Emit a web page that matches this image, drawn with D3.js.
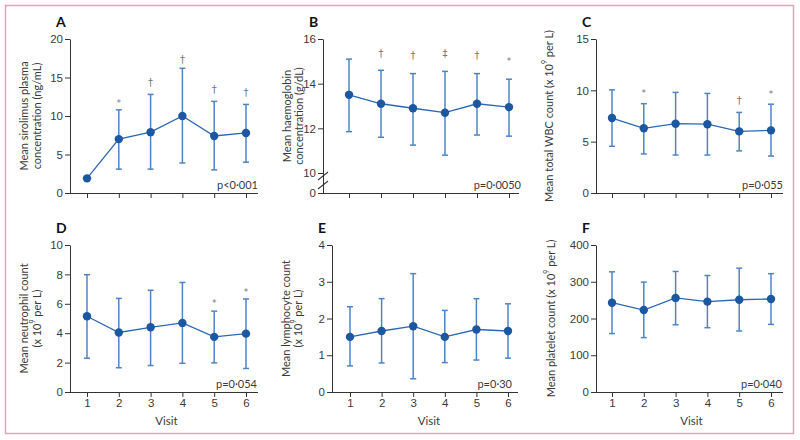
<!DOCTYPE html>
<html><head><meta charset="utf-8">
<script src="https://cdn.jsdelivr.net/npm/d3@7"></script>
<style>
body{margin:0;background:#fff;}
svg{display:block;font-family:Lato,"Noto Sans",sans-serif;}
</style></head>
<body><svg id="c" width="800" height="440"></svg>
<script>
// ---- data ----
const visits = [1, 2, 3, 4, 5, 6];

const sirolimusMean = [1.9, 7.0, 7.9, 10.0, 7.4, 7.8];
const sirolimusLow  = [null, 3.1, 3.1, 3.9, 3.0, 4.0];
const sirolimusHigh = [null, 10.8, 12.8, 16.2, 11.9, 11.5];
const sirolimusMarks = ["", "*", "†", "†", "†", "†"];
const sirolimusMarkY = [null, 11.3, 13.9, 16.9, 13.0, 12.6];

const haemoglobinMean = [13.5, 13.1, 12.9, 12.7, 13.1, 12.95];
const haemoglobinLow  = [11.85, 11.6, 11.25, 10.8, 11.7, 11.65];
const haemoglobinHigh = [15.1, 14.6, 14.45, 14.55, 14.45, 14.2];
const haemoglobinMarks = ["", "†", "†", "‡", "†", "*"];
const haemoglobinMarkY = [null, 15.2, 15.1, 15.2, 15.1, 14.9];

const wbcMean = [7.3, 6.3, 6.75, 6.7, 6.0, 6.1];
const wbcLow  = [4.55, 3.8, 3.7, 3.7, 4.1, 3.6];
const wbcHigh = [10.05, 8.7, 9.8, 9.7, 7.85, 8.65];
const wbcMarks = ["", "*", "", "", "†", "*"];
const wbcMarkY = [null, 9.45, null, null, 8.67, 9.35];

const neutrophilMean = [5.15, 4.05, 4.4, 4.7, 3.75, 3.97];
const neutrophilLow  = [2.3, 1.65, 1.8, 1.95, 1.98, 1.6];
const neutrophilHigh = [7.98, 6.37, 6.92, 7.45, 5.5, 6.33];
const neutrophilMarks = ["", "", "", "", "*", "*"];
const neutrophilMarkY = [null, null, null, null, 5.85, 6.6];

const lymphocyteMean = [1.5, 1.66, 1.79, 1.5, 1.7, 1.66];
const lymphocyteLow  = [0.71, 0.79, 0.36, 0.8, 0.87, 0.92];
const lymphocyteHigh = [2.32, 2.54, 3.22, 2.22, 2.54, 2.4];

const plateletMean = [243, 223, 256, 246, 251, 253];
const plateletLow  = [159, 148, 183, 175, 166, 184];
const plateletHigh = [327, 299, 328, 317, 337, 322];

const yTicksA = [0, 5, 10, 15, 20];
const yTicksB = [0, 10, 12, 14, 16];
const yTicksC = [0, 5, 10, 15];
const yTicksD = [0, 2, 4, 6, 8, 10];
const yTicksE = [0, 1, 2, 3, 4];
const yTicksF = [0, 100, 200, 300, 400];

const pValues = ["p<0·001", "p=0·0050", "p=0·055", "p=0·054", "p=0·30", "p=0·040"];
const panelLetters = ["A", "B", "C", "D", "E", "F"];
const xTitle = "Visit";

// ---- layout ----
const svg = d3.select("#c");
const C_DOT = "#1c57a2", C_LINE = "#2c68b2", C_ERR = "#4f84c4", C_AX = "#333", C_TXT = "#3a3a3a", C_MARK = "#6f7884";

svg.append("rect").attr("x", 5.5).attr("y", 5.5).attr("width", 788).attr("height", 428)
  .attr("fill", "none").attr("stroke", "#e3a3b9").attr("stroke-width", 1.5);

const panels = [
  {letter: panelLetters[0], mean: sirolimusMean, lo: sirolimusLow, hi: sirolimusHigh, marks: sirolimusMarks, markY: sirolimusMarkY,
   domain: [0, 20], range: [193, 39], ticks: yTicksA, axisX: 70, x0: 87, x1: 246, xEnd: 258, top: true,
   label: ["Mean sirolimus plasma", "concentration (ng/mL)"], labelX: [23, 36], p: pValues[0], pX: 258},
  {letter: panelLetters[1], mean: haemoglobinMean, lo: haemoglobinLow, hi: haemoglobinHigh, marks: haemoglobinMarks, markY: haemoglobinMarkY,
   domain: [0, 10, 16], range: [193, 173, 39], ticks: yTicksB, axisX: 323, x0: 349, x1: 509, xEnd: 519, top: true, brk: true,
   label: ["Mean haemoglobin", "concentration (g/dL)"], labelX: [286, 298], p: pValues[1], pX: 521},
  {letter: panelLetters[2], mean: wbcMean, lo: wbcLow, hi: wbcHigh, marks: wbcMarks, markY: wbcMarkY,
   domain: [0, 15], range: [193, 39], ticks: yTicksC, axisX: 596, x0: 612, x1: 771, xEnd: 783, top: true,
   label: [["Mean total WBC count (x 10", "9", " per L)"]], labelX: [548], p: pValues[2], pX: 783},
  {letter: panelLetters[3], mean: neutrophilMean, lo: neutrophilLow, hi: neutrophilHigh, marks: neutrophilMarks, markY: neutrophilMarkY,
   domain: [0, 10], range: [392, 245], ticks: yTicksD, axisX: 70, x0: 87, x1: 246, xEnd: 258, top: false,
   label: ["Mean neutrophil count", ["(x 10", "9", " per L)"]], labelX: [23, 36], p: pValues[3], pX: 257},
  {letter: panelLetters[4], mean: lymphocyteMean, lo: lymphocyteLow, hi: lymphocyteHigh, marks: null, markY: null,
   domain: [0, 4], range: [392, 245], ticks: yTicksE, axisX: 332, x0: 350, x1: 508, xEnd: 518, top: false,
   label: ["Mean lymphocyte count", ["(x 10", "9", " per L)"]], labelX: [285, 297], p: pValues[4], pX: 512},
  {letter: panelLetters[5], mean: plateletMean, lo: plateletLow, hi: plateletHigh, marks: null, markY: null,
   domain: [0, 400], range: [392, 245], ticks: yTicksF, axisX: 596, x0: 612, x1: 771, xEnd: 783, top: false,
   label: [["Mean platelet count (x 10", "9", " per L)"]], labelX: [550], p: pValues[5], pX: 782}
];

panels.forEach(P => {
  const g = svg.append("g");
  const y = d3.scaleLinear().domain(P.domain).range(P.range);
  const x = d3.scaleLinear().domain([1, 6]).range([P.x0, P.x1]);
  const yBase = P.range[0], yTop = P.range[P.range.length - 1];

  // panel letter
  g.append("text").attr("x", P.axisX - 14).attr("y", yTop - 12).attr("font-size", 14).attr("font-weight", "bold")
    .attr("fill", "#111").text(P.letter);

  // y axis
  const ya = g.append("g").attr("transform", `translate(${P.axisX},0)`)
    .call(d3.axisLeft(y).tickValues(P.ticks).tickSize(5).tickSizeOuter(0).tickPadding(2).tickFormat(d3.format("d")));
  ya.select(".domain").attr("stroke", C_AX);
  ya.selectAll(".tick line").attr("stroke", C_AX);
  ya.selectAll(".tick text").attr("font-size", 11.5).attr("fill", C_TXT).attr("font-family", null);
  if (P.brk) {
    [176, 185].forEach(yy => {
      g.append("line").attr("x1", P.axisX - 5).attr("y1", yy + 4).attr("x2", P.axisX + 5).attr("y2", yy - 4)
        .attr("stroke", C_AX).attr("stroke-width", 1.1);
    });
  }

  // x axis
  g.append("line").attr("x1", P.axisX).attr("x2", P.xEnd).attr("y1", yBase + 0.5).attr("y2", yBase + 0.5).attr("stroke", C_AX);
  const xa = g.append("g").attr("transform", `translate(0,${yBase})`)
    .call(d3.axisBottom(x).tickValues(visits).tickSize(5).tickSizeOuter(0).tickPadding(2)
      .tickFormat(P.top ? "" : d3.format("d")));
  xa.select(".domain").remove();
  xa.selectAll(".tick line").attr("stroke", C_AX);
  xa.selectAll(".tick text").attr("font-size", 11.5).attr("fill", C_TXT).attr("font-family", null);
  if (!P.top) {
    g.append("text").attr("x", (P.x0 + P.x1) / 2).attr("y", yBase + 33).attr("text-anchor", "middle")
      .attr("font-size", 11.5).attr("fill", C_TXT).text(xTitle);
  }

  // y label
  const mid = (yBase + yTop) / 2;
  P.label.forEach((ln, i) => {
    const t = g.append("text").attr("transform", `translate(${P.labelX[i]},${mid}) rotate(-90)`)
      .attr("text-anchor", "middle").attr("dominant-baseline", "central").attr("font-size", 11).attr("fill", C_TXT);
    if (Array.isArray(ln)) {
      t.append("tspan").text(ln[0]);
      t.append("tspan").attr("font-size", 7).attr("dy", -4).text(ln[1]);
      t.append("tspan").attr("dy", 4).text(ln[2]);
    } else t.text(ln);
  });

  // p value
  g.append("text").attr("x", P.pX).attr("y", yBase - 4).attr("text-anchor", "end").attr("font-size", 11)
    .attr("fill", C_TXT).text(P.p);

  // error bars
  visits.forEach((v, i) => {
    if (P.lo[i] == null) return;
    const cx = x(v);
    g.append("line").attr("x1", cx).attr("x2", cx).attr("y1", y(P.lo[i])).attr("y2", y(P.hi[i]))
      .attr("stroke", C_ERR).attr("stroke-width", 1.5);
    [P.lo[i], P.hi[i]].forEach(val => {
      g.append("line").attr("x1", cx - 3).attr("x2", cx + 3).attr("y1", y(val)).attr("y2", y(val))
        .attr("stroke", C_ERR).attr("stroke-width", 1.5);
    });
  });

  // line
  g.append("path").datum(visits.map((v, i) => [v, P.mean[i]]))
    .attr("d", d3.line().x(d => x(d[0])).y(d => y(d[1])))
    .attr("fill", "none").attr("stroke", C_LINE).attr("stroke-width", 1.3);

  // dots
  g.selectAll("circle.dot").data(visits).join("circle")
    .attr("cx", d => x(d)).attr("cy", (d, i) => y(P.mean[i])).attr("r", 4.2).attr("fill", C_DOT);

  // significance marks
  if (P.marks) {
    visits.forEach((v, i) => {
      if (!P.marks[i]) return;
      g.append("text").attr("x", x(v)).attr("y", y(P.markY[i])).attr("text-anchor", "middle")
        .attr("font-family", "'DejaVu Sans', sans-serif")
        .attr("font-size", P.marks[i] === "*" ? 9 : 10).attr("fill", C_MARK).text(P.marks[i]);
    });
  }
});
</script></body></html>
